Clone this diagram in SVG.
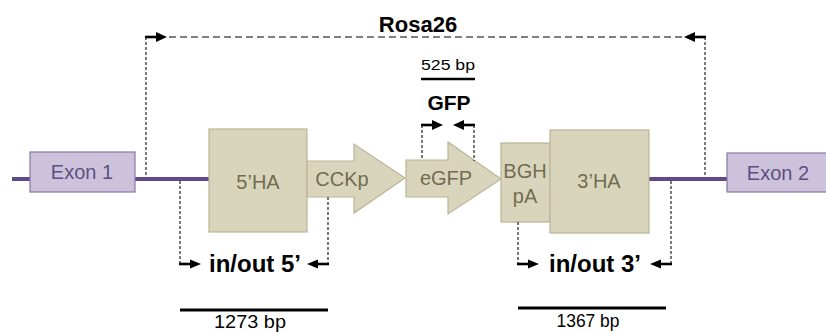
<svg xmlns="http://www.w3.org/2000/svg" width="826" height="332" viewBox="0 0 826 332">
<defs>
<style>
.exon{fill:#ccc2dc;stroke:#8878a8;stroke-width:1.2}
.exon-t{font-family:"Liberation Sans",Arial,sans-serif;font-size:20px;fill:#5e5080;text-anchor:middle}
.box{fill:#d9d5bd;stroke:#bab597;stroke-width:1.2}
.box-t{font-family:"Liberation Sans",Arial,sans-serif;font-size:20px;fill:#726d50;text-anchor:middle}
.genome{stroke:#5e4a86;stroke-width:4;fill:none}
.vdash{stroke:#222;stroke-width:1.2;stroke-dasharray:3,2;fill:none}
.hdash{stroke:#555;stroke-width:1.3;stroke-dasharray:7,4;fill:none}
.arr{stroke:#000;stroke-width:2.6;fill:none}
.head{fill:#000}
.lbl{font-family:"Liberation Sans",Arial,sans-serif;font-weight:bold;fill:#000;text-anchor:middle}
.bp{font-family:"Liberation Sans",Arial,sans-serif;fill:#000;text-anchor:middle}
.bar{stroke:#000;stroke-width:3}
</style>
</defs>

<g id="genome-line">
<line class="genome" x1="12" y1="179" x2="30" y2="179"/>
<line class="genome" x1="135" y1="179" x2="209" y2="179"/>
<line class="genome" x1="649" y1="179" x2="727" y2="179"/>
</g>

<g id="exon1">
<rect class="exon" x="30" y="152" width="105" height="40"/>
<text class="exon-t" x="82" y="179">Exon 1</text>
</g>
<g id="exon2">
<rect class="exon" x="727" y="153" width="105" height="39"/>
<text class="exon-t" x="778" y="180">Exon 2</text>
</g>

<g id="ha5">
<rect class="box" x="209" y="129" width="98" height="103"/>
<text class="box-t" x="258" y="189">5’HA</text>
</g>
<g id="cckp">
<polygon class="box" points="307,161 354,161 354,144 405,178 354,213 354,197 307,197"/>
<text class="box-t" x="342" y="186">CCKp</text>
</g>
<g id="egfp">
<polygon class="box" points="406,160 448,160 448,142 501,179 448,214 448,197 406,197"/>
<text class="box-t" x="446" y="185">eGFP</text>
</g>
<g id="bghpa">
<rect class="box" x="501" y="143" width="49" height="79"/>
<text class="box-t" x="525" y="178">BGH</text>
<text class="box-t" x="525" y="203">pA</text>
</g>
<g id="ha3">
<rect class="box" x="550" y="130" width="99" height="103"/>
<text class="box-t" x="599" y="188">3’HA</text>
</g>

<g id="connectors">
<!-- Rosa26 -->
<line class="vdash" x1="146" y1="37" x2="146" y2="176"/>
<line class="vdash" x1="705" y1="37" x2="705" y2="176"/>
<line class="hdash" x1="169" y1="37" x2="683" y2="37"/>
<line class="arr" x1="145" y1="37" x2="158" y2="37"/>
<polygon class="head" points="156,32 167,37 156,42"/>
<line class="arr" x1="706" y1="37" x2="693" y2="37"/>
<polygon class="head" points="695,32 684,37 695,42"/>
<!-- GFP primers -->
<line class="vdash" x1="422" y1="125" x2="422" y2="160"/>
<line class="vdash" x1="474" y1="125" x2="474" y2="161"/>
<line class="arr" x1="421" y1="125" x2="434" y2="125"/>
<polygon class="head" points="432,120 443,125 432,130"/>
<line class="arr" x1="475" y1="125" x2="462" y2="125"/>
<polygon class="head" points="464,120 453,125 464,130"/>
<!-- in/out 5' -->
<line class="vdash" x1="180" y1="181" x2="180" y2="264"/>
<line class="vdash" x1="328" y1="197" x2="328" y2="264"/>
<line class="arr" x1="179" y1="264" x2="192" y2="264"/>
<polygon class="head" points="190,259.5 201,264 190,268.5"/>
<line class="arr" x1="329" y1="264" x2="316" y2="264"/>
<polygon class="head" points="318,259.5 307,264 318,268.5"/>
<!-- in/out 3' -->
<line class="vdash" x1="518" y1="222" x2="518" y2="264"/>
<line class="vdash" x1="671" y1="181" x2="671" y2="264"/>
<line class="arr" x1="517" y1="264" x2="530" y2="264"/>
<polygon class="head" points="528,259.5 539,264 528,268.5"/>
<line class="arr" x1="672" y1="264" x2="659" y2="264"/>
<polygon class="head" points="661,259.5 650,264 661,268.5"/>
<!-- size bars -->
<line class="bar" x1="421" y1="79" x2="475" y2="79" style="stroke-width:2.4"/>
<line class="bar" x1="180" y1="310" x2="328" y2="310"/>
<line class="bar" x1="518" y1="308" x2="666" y2="308"/>
</g>

<g id="labels">
<text class="lbl" x="418" y="32" font-size="22">Rosa26</text>
<text class="lbl" x="449" y="110" font-size="21">GFP</text>
<text class="bp" x="448" y="70" font-size="15" textLength="54" lengthAdjust="spacingAndGlyphs">525 bp</text>
<text class="lbl" x="255" y="272" font-size="24">in/out 5’</text>
<text class="lbl" x="595" y="272" font-size="24">in/out 3’</text>
<text class="bp" x="250" y="328" font-size="18" textLength="72" lengthAdjust="spacingAndGlyphs">1273 bp</text>
<text class="bp" x="588" y="327" font-size="18" textLength="63" lengthAdjust="spacingAndGlyphs">1367 bp</text>
</g>
</svg>
